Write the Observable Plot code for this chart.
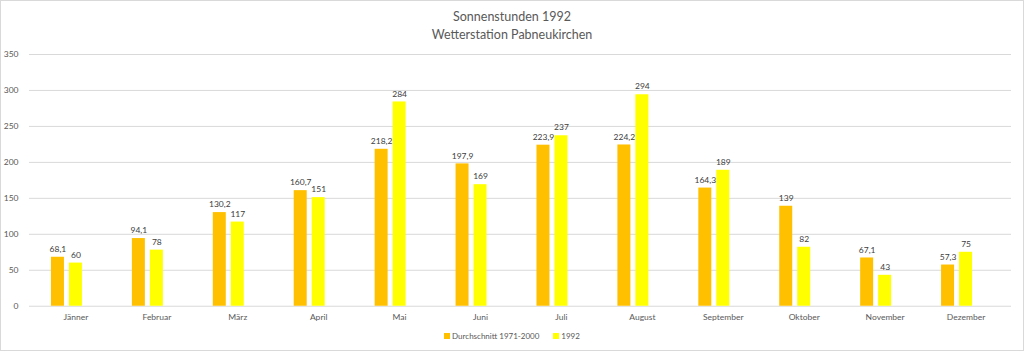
<!DOCTYPE html>
<html><head><meta charset="utf-8">
<script src="https://cdn.jsdelivr.net/npm/d3@7"></script>
<script src="https://cdn.jsdelivr.net/npm/@observablehq/plot@0.6"></script>
<style>
body{margin:0;background:#fff;font-family:Lato,"Open Sans",sans-serif;}
#wrap{position:relative;width:1022px;height:349px;border:1px solid #d9d9d9;background:#fff;overflow:hidden;}
#title{position:absolute;top:7px;left:0;width:1022px;text-align:center;color:#595959;font-size:12.5px;line-height:18px;}
#chart{position:absolute;top:39px;left:-1px;}
#legend{position:absolute;top:330px;left:0;width:1022px;text-align:center;color:#595959;font-size:8px;}
#legend span.sw{display:inline-block;width:6px;height:6px;margin-right:2px;vertical-align:0px;}
#legend span.item{margin:0 7px;}
</style></head>
<body><div id="wrap">
<div id="title">Sonnenstunden 1992<br>Wetterstation Pabneukirchen</div>
<div id="chart"></div>
<div id="legend"></div>
</div>
<script>
const months = ["Jänner","Februar","März","April","Mai","Juni","Juli","August","September","Oktober","November","Dezember"];
const avg = [68.1, 94.1, 130.2, 160.7, 218.2, 197.9, 223.9, 224.2, 164.3, 139, 67.1, 57.3];
const y1992 = [60, 78, 117, 151, 284, 169, 237, 294, 189, 82, 43, 75];
const seriesNames = ["Durchschnitt 1971-2000", "1992"];
const colors = ["#FFC000", "#FFFF00"];
const yTicks = [0, 50, 100, 150, 200, 250, 300, 350];

const avgData = months.map((m, i) => ({month: m, series: seriesNames[0], value: avg[i]}));
const newData = months.map((m, i) => ({month: m, series: seriesNames[1], value: y1992[i]}));
const fmt = v => String(v).replace(".", ",");

const plot = Plot.plot({
  width: 1024,
  height: 286,
  marginLeft: 29,
  marginRight: 12,
  marginTop: 14,
  marginBottom: 20,
  style: {fontFamily: "Lato, 'Open Sans', sans-serif", fontSize: "8.5px", color: "#595959", background: "transparent"},
  x: {domain: months, padding: 0, label: null, tickSize: 0, tickPadding: 8},
  y: {domain: [0, 350], ticks: yTicks, label: null, grid: false, tickSize: 0, tickPadding: 11, tickFormat: d => d},
  color: {domain: seriesNames, range: colors},
  marks: [
    Plot.ruleY(yTicks, {y: d => d, stroke: "#d9d9d9", strokeWidth: 1}),
    Plot.barY(avgData, {x: "month", y: "value", fill: "series", insetLeft: 16, insetRight: 52}),
    Plot.barY(newData, {x: "month", y: "value", fill: "series", insetLeft: 34, insetRight: 34}),
    Plot.text(avgData, {x: "month", y: "value", text: d => fmt(d.value), dx: -18, dy: -8, fill: "#404040", fontSize: 8.5}),
    Plot.text(newData, {x: "month", y: "value", text: d => fmt(d.value), dy: -8, fill: "#404040", fontSize: 8.5})
  ]
});
document.getElementById("chart").appendChild(plot);

const lg = document.getElementById("legend");
seriesNames.forEach((s, i) => {
  const it = document.createElement("span");
  it.className = "item";
  it.innerHTML = `<span class="sw" style="background:${colors[i]}"></span>${s}`;
  lg.appendChild(it);
});
</script>
</body></html>
